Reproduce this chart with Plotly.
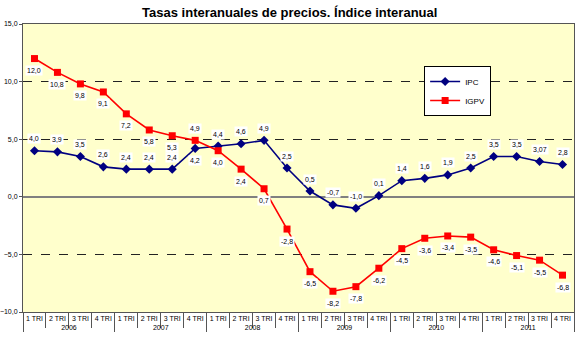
import plotly.graph_objects as go

years = ["2006", "2007", "2008", "2009", "2010", "2011"]
quarters = ["1 TRI", "2 TRI", "3 TRI", "4 TRI"]
ipc = [4.0, 3.9, 3.5, 2.6, 2.4, 2.4, 2.4, 4.2, 4.4, 4.6, 4.9, 2.5,
       0.5, -0.7, -1.0, 0.1, 1.4, 1.6, 1.9, 2.5, 3.5, 3.5, 3.07, 2.8]
igpv = [12.0, 10.8, 9.8, 9.1, 7.2, 5.8, 5.3, 4.9, 4.0, 2.4, 0.7, -2.8,
        -6.5, -8.2, -7.8, -6.2, -4.5, -3.6, -3.4, -3.5, -4.6, -5.1, -5.5, -6.8]
# label placement: 1 = above, -1 = below
ipc_pos = [1] * 24
ipc_pos[7] = -1
igpv_pos = [-1] * 24
igpv_pos[7] = 1

x_year = [y for y in years for _ in quarters]
x_q = [q for _ in years for q in quarters]
n = len(x_q)


def fmt(v):
    s = f"{v:.1f}" if round(v, 1) == v else f"{v:.2f}"
    return s.replace(".", ",")


fig = go.Figure()
fig.add_trace(go.Scatter(x=[x_year, x_q], y=ipc, name="IPC", mode="lines+markers",
                         line=dict(color="#000080", width=1.6),
                         marker=dict(symbol="diamond", size=7, color="#000080")))
fig.add_trace(go.Scatter(x=[x_year, x_q], y=igpv, name="IGPV", mode="lines+markers",
                         line=dict(color="#FF0000", width=1.6),
                         marker=dict(symbol="square", size=7, color="#FF0000")))

ann = []
for vals, pos in ((ipc, ipc_pos), (igpv, igpv_pos)):
    for i, (v, p) in enumerate(zip(vals, pos)):
        ann.append(dict(x=i, y=v, xref="x", yref="y", text=fmt(v), showarrow=False,
                        yshift=12 * p, bgcolor="white", borderpad=1,
                        font=dict(family="Arial", size=7, color="black")))

fig.update_layout(
    width=576, height=358,
    margin=dict(l=23, r=2, t=24, b=46),
    paper_bgcolor="white", plot_bgcolor="#FFFFCC",
    separators=",.",
    font=dict(family="Arial", size=7, color="black"),
    title=dict(text="<b>Tasas interanuales de precios. Índice interanual</b>",
               x=0.503, xanchor="center", y=0.965, yanchor="middle",
               font=dict(family="Arial", size=13, color="black")),
    showlegend=True,
    legend=dict(x=0.728, y=0.854, xanchor="left", yanchor="top",
                bgcolor="white", bordercolor="black", borderwidth=1,
                font=dict(family="Arial", size=8), tracegroupgap=0,
                itemwidth=30),
    annotations=ann,
    xaxis=dict(type="multicategory", range=[-0.5, n - 0.5], autorange=False,
               showgrid=False, showline=True,
               linecolor="#555555", linewidth=1, mirror=True, automargin=False,
               ticks="outside", tickson="boundaries", ticklen=15, tickcolor="#555555",
               tickangle=0,
               showdividers=True, dividercolor="#555555", dividerwidth=1,
               tickfont=dict(family="Arial", size=7)),
    xaxis2=dict(overlaying="x", anchor="free", position=0.4,
                range=[-0.5, n - 0.5], tickvals=[i + 0.5 for i in range(n - 1)],
                showticklabels=False, ticks="outside", ticklen=3,
                tickcolor="#555555", showgrid=False, showline=False, zeroline=False),
    yaxis=dict(range=[-10, 15], tickvals=[-10, -5, 0, 5, 10, 15],
               tickformat=".1f", showgrid=True, gridcolor="#222222",
               griddash="dash", gridwidth=1, automargin=False,
               zeroline=True, zerolinecolor="#808080", zerolinewidth=2,
               showline=True, linecolor="#555555", linewidth=1, mirror=True,
               ticks="outside", ticklen=3, tickcolor="#555555",
               tickfont=dict(family="Arial", size=7)),
)

fig.write_html("out.html", config={"displayModeBar": False},
               post_script="document.body.style.margin='0';")
